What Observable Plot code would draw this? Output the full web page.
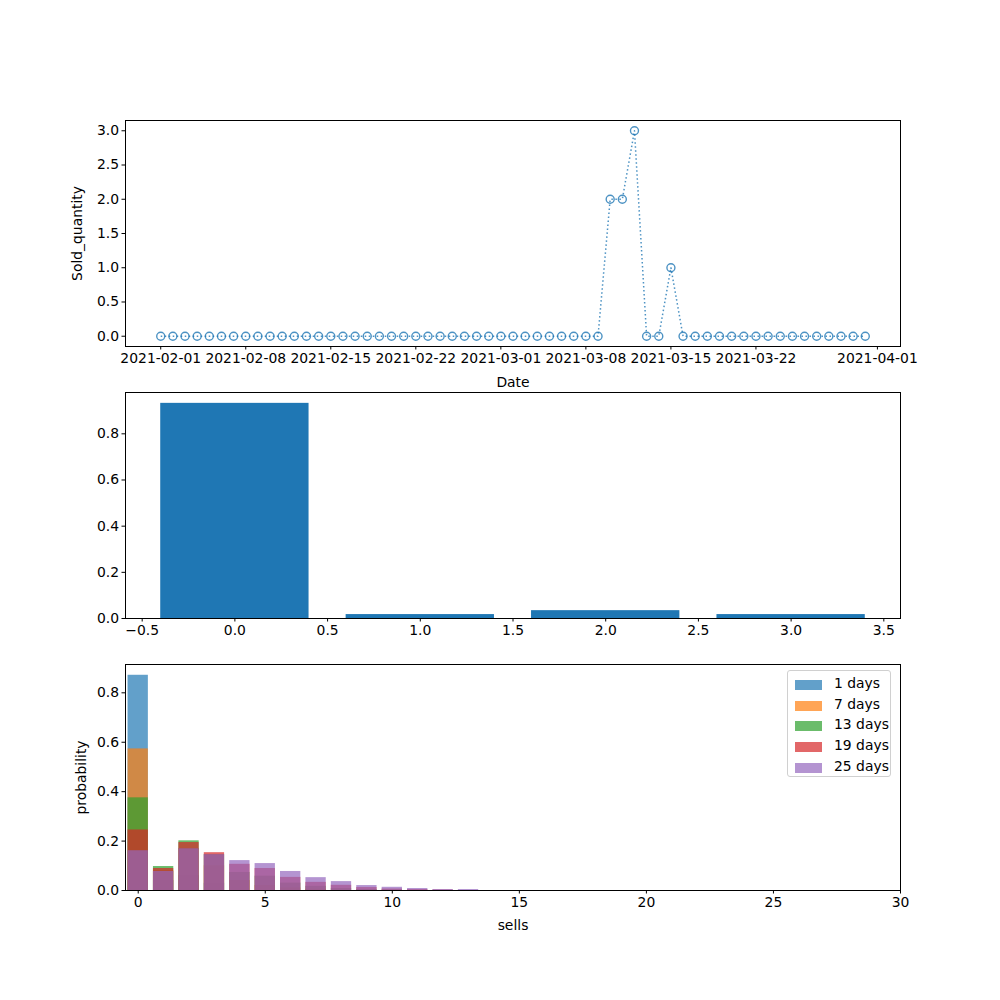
<!DOCTYPE html>
<html>
<head>
<meta charset="utf-8">
<script src="https://cdn.jsdelivr.net/npm/d3@7"></script>
<script src="https://cdn.jsdelivr.net/npm/@observablehq/plot@0.6"></script>
<style>
  html, body { margin: 0; padding: 0; background: #fff; }
  #wrap { position: relative; width: 1000px; height: 1000px; font-family: "DejaVu Sans", sans-serif; }
  #wrap svg { display: block; position: absolute; left: 0; }
  .legend { position: absolute; left: 787px; top: 670px; width: 104px; height: 107px; box-sizing: border-box;
            border: 1px solid #d0d0d0; border-radius: 3px; background: rgba(255,255,255,0.8); font-size: 13.9px; color: #000; }
  .legend .row { position: absolute; left: 7px; height: 14px; }
  .legend .sw { position: absolute; left: 0; top: 2px; width: 27px; height: 10px; }
  .legend .lb { position: absolute; left: 39px; top: -3px; white-space: nowrap; }
</style>
</head>
<body>
<div id="wrap"></div>
<script>
// ---------- data ----------
const startDate = "2021-02-01";
const endDate = "2021-04-01"; // exclusive
const soldQuantity = [
  0,0,0,0,0,0,0,0,0,0,
  0,0,0,0,0,0,0,0,0,0,
  0,0,0,0,0,0,0,0,0,0,
  0,0,0,0,0,0,0,2,2,3,
  0,0,1,0,0,0,0,0,0,0,
  0,0,0,0,0,0,0,0,0
];
const dateTickLabels = ["2021-02-01","2021-02-08","2021-02-15","2021-02-22","2021-03-01","2021-03-08","2021-03-15","2021-03-22","2021-04-01"];

const midValues = [0, 1, 2, 3];
const midProb = [0.932, 0.017, 0.034, 0.017];

const sells = [0,1,2,3,4,5,6,7,8,9,10,11,12,13];
const seriesNames = ["1 days", "7 days", "13 days", "19 days", "25 days"];
const seriesColors = ["#1f77b4", "#ff7f0e", "#2ca02c", "#d62728", "#9467bd"];
const prob1 =  [0.871, 0.040, 0.060, 0.029, 0, 0, 0, 0, 0, 0, 0, 0, 0, 0];
const prob7 =  [0.573, 0.080, 0.170, 0.100, 0.040, 0.020, 0.010, 0.005, 0, 0, 0, 0, 0, 0];
const prob13 = [0.375, 0.097, 0.201, 0.145, 0.073, 0.058, 0.030, 0.017, 0.008, 0.004, 0.002, 0, 0, 0];
const prob19 = [0.245, 0.089, 0.194, 0.153, 0.106, 0.089, 0.053, 0.033, 0.021, 0.012, 0.006, 0.004, 0.002, 0];
const prob25 = [0.161, 0.077, 0.169, 0.145, 0.121, 0.109, 0.077, 0.052, 0.036, 0.020, 0.013, 0.008, 0.004, 0.004];
const seriesProbs = [prob1, prob7, prob13, prob19, prob25];

// ---------- helpers ----------
const wrap = document.getElementById("wrap");
const style = { fontFamily: "DejaVu Sans, sans-serif", fontSize: "13.9px", color: "#000", background: "transparent", overflow: "visible" };
const parse = d3.utcParse("%Y-%m-%d");
const dates = d3.utcDay.range(parse(startDate), parse(endDate));
const series1 = dates.map((d, i) => ({ date: d, q: soldQuantity[i] }));
const span = (dates[dates.length - 1] - dates[0]);
const xDom = [new Date(+dates[0] - span * 0.05), new Date(+dates[dates.length - 1] + span * 0.05)];

function place(svg, top) { svg.style.top = top + "px"; wrap.appendChild(svg); }

// ---------- top chart ----------
const p1 = Plot.plot({
  width: 1000, height: 392,
  marginTop: 120, marginBottom: 46, marginLeft: 125, marginRight: 100,
  style,
  x: { type: "utc", domain: xDom, ticks: dateTickLabels.map(parse), tickFormat: d3.utcFormat("%Y-%m-%d"),
       label: "Date", labelAnchor: "center", labelOffset: 40, labelArrow: "none", tickSize: 3.5, tickPadding: 3 },
  y: { domain: [-0.15, 3.15], ticks: [0, 0.5, 1, 1.5, 2, 2.5, 3], tickFormat: ".1f",
       label: "Sold_quantity", labelAnchor: "center", labelOffset: 53, labelArrow: "none", tickSize: 3.5, tickPadding: 3 },
  marks: [
    Plot.line(series1, { x: "date", y: "q", stroke: "#1f77b4", strokeOpacity: 0.8, strokeWidth: 1.5,
                         strokeDasharray: "1.5,2.5", strokeLinecap: "butt" }),
    Plot.dot(series1, { x: "date", y: "q", r: 4, stroke: "#1f77b4", strokeOpacity: 0.8, strokeWidth: 1.4, fill: "none" }),
    Plot.frame({ stroke: "#000", strokeWidth: 1 })
  ]
});
place(p1, 0);

// ---------- middle chart ----------
const midData = midValues.map((v, i) => ({ v, p: midProb[i] }));
const p2 = Plot.plot({
  width: 1000, height: 274,
  marginTop: 2, marginBottom: 46, marginLeft: 125, marginRight: 100,
  style,
  x: { domain: [-0.59, 3.59], ticks: [-0.5, 0, 0.5, 1, 1.5, 2, 2.5, 3, 3.5], tickFormat: ".1f", label: null, tickSize: 3.5, tickPadding: 3 },
  y: { domain: [0, 0.979], ticks: [0, 0.2, 0.4, 0.6, 0.8], tickFormat: ".1f", label: null, tickSize: 3.5, tickPadding: 3 },
  marks: [
    Plot.rect(midData, { x1: d => d.v - 0.4, x2: d => d.v + 0.4, y1: 0, y2: "p", fill: "#1f77b4" }),
    Plot.frame({ stroke: "#000", strokeWidth: 1 })
  ]
});
place(p2, 390);

// ---------- bottom chart ----------
const barData = [];
seriesNames.forEach((name, si) => sells.forEach((s, j) => barData.push({ name, si, s, p: seriesProbs[si][j] })));
const p3 = Plot.plot({
  width: 1000, height: 338,
  marginTop: 2, marginBottom: 110, marginLeft: 125, marginRight: 100,
  style,
  x: { domain: [-0.5, 30], ticks: [0, 5, 10, 15, 20, 25, 30], tickFormat: "d",
       label: "sells", labelAnchor: "center", labelOffset: 39, labelArrow: "none", tickSize: 3.5, tickPadding: 3 },
  y: { domain: [0, 0.9146], ticks: [0, 0.2, 0.4, 0.6, 0.8], tickFormat: ".1f",
       label: "probability", labelAnchor: "center", labelOffset: 49, labelArrow: "none", tickSize: 3.5, tickPadding: 3 },
  color: { domain: seriesNames, range: seriesColors },
  marks: [
    ...seriesNames.map((name, si) =>
      Plot.rect(barData.filter(d => d.si === si && d.p > 0),
        { x1: d => d.s - 0.4, x2: d => d.s + 0.4, y1: 0, y2: "p", fill: "name", fillOpacity: 0.7 })),
    Plot.frame({ stroke: "#000", strokeWidth: 1 })
  ]
});
place(p3, 662);

// legend
const leg = document.createElement("div");
leg.className = "legend";
seriesNames.forEach((name, i) => {
  const row = document.createElement("div");
  row.className = "row";
  row.style.top = (7 + i * 20.7) + "px";
  const sw = document.createElement("div");
  sw.className = "sw";
  sw.style.background = seriesColors[i];
  sw.style.opacity = 0.7;
  const lb = document.createElement("div");
  lb.className = "lb";
  lb.textContent = name;
  row.appendChild(sw); row.appendChild(lb);
  leg.appendChild(row);
});
wrap.appendChild(leg);
</script>
</body>
</html>
